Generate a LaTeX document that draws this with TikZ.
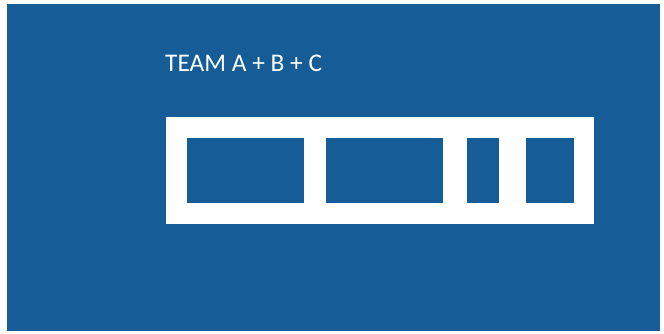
\documentclass[tikz,border=0pt]{standalone}
\usepackage{fontspec}
\setmainfont{Carlito}
\usepackage{xcolor}
\usepackage{tikz}
\usetikzlibrary{positioning}
\definecolor{teamblue}{RGB}{22, 92, 150}

\begin{document}
\begin{tikzpicture}[
    x=1pt, y=-1pt,
    panel/.style={fill=teamblue, draw=none, inner sep=0pt, anchor=north west},
    frame/.style={fill=white, draw=none, inner sep=0pt, minimum height=107pt, minimum width=428pt},
    slot/.style={fill=teamblue, draw=none, inner sep=0pt, minimum height=65pt},
    title/.style={text=white, font=\fontsize{25.4}{28}\selectfont, inner sep=0pt, anchor=base west}
]
    \useasboundingbox (0, 0) rectangle (664, 333);
    \fill[white] (0, 0) rectangle (664, 333);
    \node[panel, minimum width=653pt, minimum height=327pt] (bg) at (7, 4) {};

    % Title
    \node[title] (team) at (165, 71) {TEAM A + B + C};

    % White bar with the slots
    \node[frame] (bar) at (380, 170.5) {};
    \node[slot, minimum width=117pt] (slotA) at (245.5, 170.5) {};
    \node[slot, minimum width=117pt] (slotB) at (384.5, 170.5) {};
    \node[slot, minimum width=32pt] (slotC) at (483, 170.5) {};
    \node[slot, minimum width=48pt] (slotD) at (550, 170.5) {};

\end{tikzpicture}
\end{document}
